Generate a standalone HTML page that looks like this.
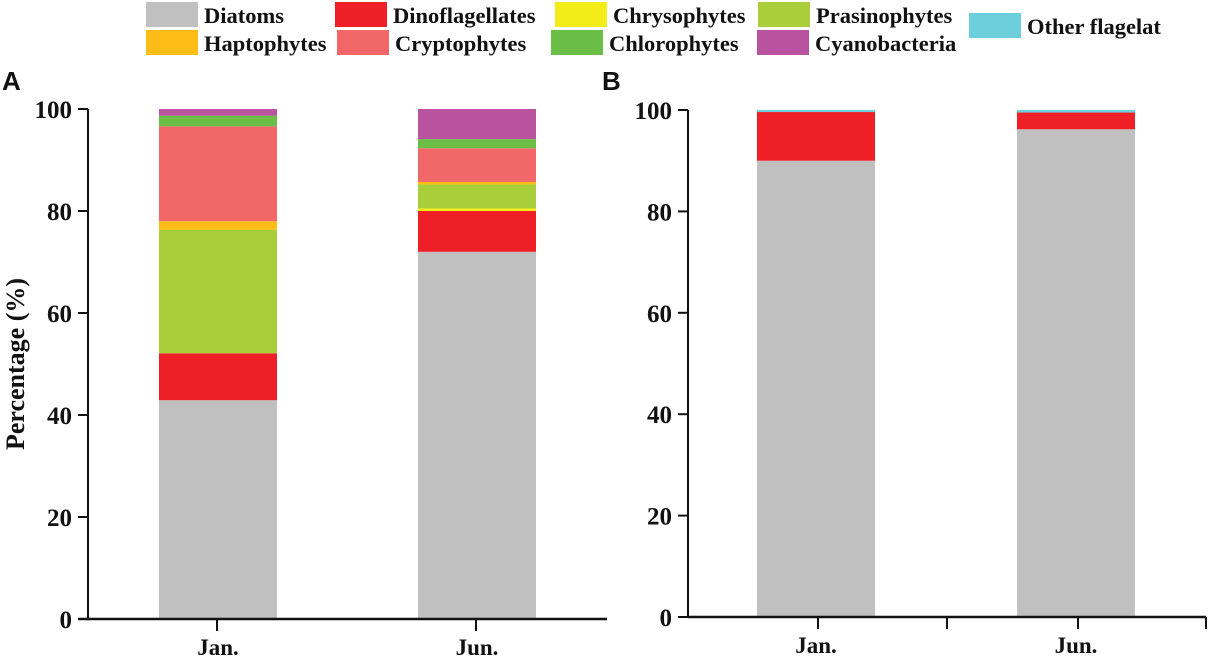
<!DOCTYPE html>
<html><head><meta charset="utf-8"><style>
body{margin:0;background:#fff;width:1209px;height:657px;overflow:hidden}
svg text{font-family:"Liberation Serif",serif;font-weight:bold;fill:#111}
</style></head><body>
<svg id="c" width="1209" height="657" xmlns="http://www.w3.org/2000/svg"></svg>
<script>
const groups = ["Diatoms","Dinoflagellates","Chrysophytes","Prasinophytes","Haptophytes","Cryptophytes","Chlorophytes","Cyanobacteria","Other flagelat"];
const colors = ["#c0c0c0","#ee1f26","#f2ec19","#a8ce3a","#fdbd16","#f16667","#6abd45","#b9529f","#6dcedc"];
const categories = ["Jan.","Jun."];
const yTicks = [0,20,40,60,80,100];
// panel A values (%) per group, [Jan, Jun]
const panelA = [[42.9,72.0],[9.2,8.0],[0,0.5],[24.2,4.7],[1.7,0.5],[18.6,6.6],[2.1,1.8],[1.3,5.9],[0,0]];
// panel B values (%)
const panelB = [[90.0,96.2],[9.6,3.3],[0,0],[0,0],[0,0],[0,0],[0,0],[0,0],[0.4,0.5]];

const svg=document.getElementById('c');
const NS="http://www.w3.org/2000/svg";
function mk(t,a,p){const e=document.createElementNS(NS,t);for(const k in a)e.setAttribute(k,a[k]);(p||svg).appendChild(e);return e;}

function panel(vals, ax, x0, x1, y0, y100, barX, bw, label, ticksX, key){
  const g=mk('g',{});
  
  
  const y=v=>y0-(y0-y100)*v/100;
  categories.forEach((c,ci)=>{
    let cum=0;
    vals.forEach((s,gi)=>{
      const v=s[ci]; if(v<=0) return;
      const r=mk('rect',{x:barX[ci],y:y(cum+v),width:bw,height:y(cum)-y(cum+v),fill:colors[gi]},g);
      
      
      cum+=v;
    });
    const t=mk('text',{x:barX[ci]+bw/2,y:y0+36,'font-size':23,'text-anchor':'middle'},g);
    t.textContent=c;
    
    
  });
  mk('line',{x1:ax,y1:y100,x2:ax,y2:y0,stroke:'#111','stroke-width':2},g);
  mk('line',{x1:x0,y1:y0,x2:x1,y2:y0,stroke:'#111','stroke-width':2.5},g);
  yTicks.forEach(v=>{
    mk('line',{x1:ax-10,y1:y(v),x2:ax,y2:y(v),stroke:'#111','stroke-width':2},g);
    const t=mk('text',{x:ax-16,y:y(v)+9,'font-size':25,'text-anchor':'end'},g);
    t.textContent=v;
    
    
  });
  ticksX.forEach(tx=>mk('line',{x1:tx,y1:y0,x2:tx,y2:y0+12,stroke:'#111','stroke-width':2},g));
  const L=mk('text',{x:label[0],y:label[1],'font-size':26,style:'font-family:"Liberation Sans",sans-serif'},g);
  L.textContent=label[2];
  
  
}
panel(panelA,88,78,607,619,109,[159,418],118,[2,90,'A'],[217,476],'panel-a');
panel(panelB,688,688,1206,617,110,[757,1017],118,[602,90,'B'],[818,947,1078,1206],'panel-b');

const yt=mk('text',{x:0,y:0,'font-size':26,'text-anchor':'middle',transform:'translate(24,364) rotate(-90)'});
yt.textContent='Percentage (%)';



// legend
const legPos=[[146,2],[335,2],[555,2],[758,2],[146,30],[337,30],[551,30],[757,30],[969,13]];
groups.forEach((gname,i)=>{
  const g=mk('g',{});
  
  
  const [lx,ly]=legPos[i];
  mk('rect',{x:lx,y:ly,width:52,height:25,fill:colors[i]},g);
  const t=mk('text',{x:lx+58,y:ly+21,'font-size':22.5},g);
  t.textContent=gname;
});
</script>
</body></html>
